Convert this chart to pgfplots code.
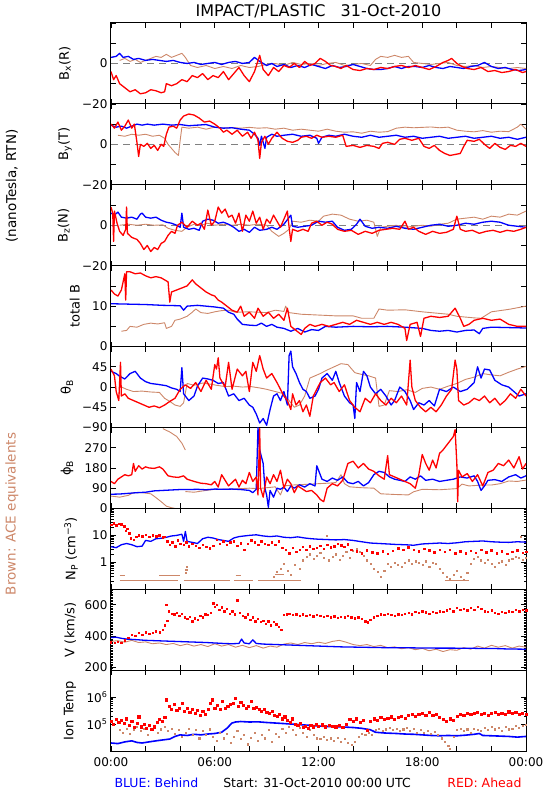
\documentclass[border=0pt]{standalone}
\usepackage{fontspec}
\setmainfont{DejaVu Sans}
\usepackage{pgfplots}
\pgfplotsset{compat=1.18}
\definecolor{ibrown}{RGB}{205,135,105}
\definecolor{iblue}{RGB}{0,0,255}
\definecolor{ired}{RGB}{255,0,0}
\newcommand\tk{\fontsize{12}{14}\selectfont}
\newcommand\lb{\fontsize{13}{15}\selectfont}
\pgfplotsset{
  panel/.style={
    scale only axis, width=415pt, height=80.9pt, anchor=north west,
    xmin=0, xmax=24, xtick={0,2,...,24}, xticklabels={},
    tick align=inside, xtick pos=both, ytick pos=both,
    major tick length=5pt, minor tick length=2.5pt,
    axis line style={line width=1pt},
    every tick/.style={black, line width=0.8pt},
    yticklabel style={font=\tk},
    ylabel style={font=\lb, anchor=center},
    unbounded coords=jump,
  },
  lblue/.style={iblue, line width=1.3pt, line join=round, mark=none},
  lred/.style={ired, line width=1.3pt, line join=round, mark=none},
  lbrown/.style={ibrown, line width=0.9pt, line join=round, mark=none},
  zline/.style={gray, line width=0.8pt, dash pattern=on 7pt off 5pt, mark=none},
}
\begin{document}
\begin{tikzpicture}
\useasboundingbox (-111pt,23pt) rectangle (439pt,-777pt);
\node[font=\fontsize{16}{18}\selectfont] at (207.5pt,11.5pt) {IMPACT/PLASTIC~~~31-Oct-2010};
\node[font=\fontsize{13.5}{15}\selectfont, rotate=90] at (-99pt,-163pt) {(nanoTesla, RTN)};
\node[font=\fontsize{13.5}{15}\selectfont, rotate=90, text=ibrown] at (-99pt,-491pt) {Brown: ACE equivalents};
\node[font=\fontsize{12.5}{14}\selectfont, text=iblue, anchor=west] at (0pt,-760pt) {BLUE: Behind};
\node[font=\fontsize{12.5}{14}\selectfont, anchor=center] at (206pt,-760pt) {Start: 31-Oct-2010 00:00 UTC};
\node[font=\fontsize{12.5}{14}\selectfont, text=ired, anchor=east] at (414pt,-760pt) {RED: Ahead};

% ---------- Panel 1: Bx
\begin{axis}[panel, at={(0pt,0pt)}, ymin=-20, ymax=20, ytick={-20,-10,0,10,20},
  yticklabels={−20,,0,,}, ylabel={B\textsubscript{x}(R)},
  ylabel style={at={(axis description cs:-0.111,0.5)}}]
\addplot[zline] coordinates {(0,0) (24,0)};
\addplot[lbrown] coordinates {(0.5,1.5) (0.8,2.5) (1.1,1) (1.4,2) (1.7,0.5) (2,1.5) (2.3,2.5) (2.6,3.5) (2.9,3) (3.2,4.5) (3.5,3) (3.8,4) (4.1,5) (4.3,3) (4.6,-1) (5,-2) (5.5,-1) (6,-2.5) (6.5,-1.5) (7,-2.5) (7.5,-1) (8,-2) (8.5,-1.5) (9,-0.5) (9.5,0) (10,-1) (10.5,0.5) (11,-0.5) (11.5,0) (12,-1) (12.5,0) (13,0.5) (13.5,-1) (14,-0.5) (14.5,0) (15,-1) (15.3,2) (15.6,3.5) (16,3) (16.4,4) (16.8,3) (17.2,3.5) (17.5,0.5) (18,0) (18.5,-0.5) (19,0) (19.5,0.5) (20,-1) (20.5,-1.5) (21,-1) (21.5,-2) (22,-1.5) (22.5,-2) (23,-2.5) (23.5,-2) (24,-2.5)};
\addplot[lblue] coordinates {(0,3) (0.3,3.5) (0.5,5) (0.7,3) (1,3.5) (1.3,2) (1.6,2.5) (2,1.5) (2.4,2) (2.8,1.5) (3.2,1) (3.6,1.5) (4,0.5) (4.4,0) (4.8,0.5) (5.2,-0.5) (5.6,0) (6,0.5) (6.4,-0.5) (6.8,0.5) (7.2,1) (7.6,0) (8,0.5) (8.3,3) (8.6,1) (9,-1) (9.3,0) (9.6,-1.5) (10,-0.5) (10.4,-2) (10.8,-1) (11.2,-2) (11.6,-0.5) (12,-1.5) (12.4,-2.5) (12.8,-1) (13.2,-2) (13.6,-1.5) (14,-0.5) (14.4,-1.5) (14.8,-2.5) (15.2,-3) (15.6,-3) (16,-2.5) (16.4,-1.5) (16.8,-2.5) (17.2,-1.5) (17.6,-1.5) (18,-2) (18.4,-1) (18.8,-2) (19.2,-2.5) (19.6,-1.5) (20,-2) (20.4,-2.5) (20.8,-1.5) (21.2,-1) (21.6,0.5) (22,-1.5) (22.4,-2.5) (22.8,-2) (23.2,-3) (23.6,-3.5) (24,-3)};
\addplot[lred] coordinates {(0,-4) (0.15,-8) (0.3,-6) (0.5,-10) (0.8,-12) (1.1,-14) (1.4,-13) (1.7,-15) (2,-14.5) (2.3,-13) (2.6,-13.5) (2.9,-14.5) (3.1,-14) (3.2,-10) (3.5,-11) (3.8,-10) (4.1,-8) (4.4,-9) (4.7,-6) (5,-7) (5.3,-5) (5.6,-8) (5.9,-6) (6.2,-7) (6.5,-4) (6.8,-8) (7.1,-5) (7.4,-2) (7.7,-6) (8,-9) (8.3,-4) (8.6,4) (8.8,-3) (9.1,-6) (9.4,-2) (9.7,-4) (10,-1) (10.3,-2) (10.6,0) (10.9,-2) (11.2,1) (11.5,-1) (11.8,0) (12.1,2.5) (12.4,1) (12.7,-1) (13,-1.5) (13.3,-2.5) (13.6,-1) (14,-3) (14.4,-3.5) (14.8,-2.5) (15.2,-3) (15.6,-2) (16,-2.5) (16.4,-1.5) (16.8,-1) (17.2,-2) (17.6,-1) (18,-2) (18.4,-3) (18.8,-1.5) (19.2,0.5) (19.5,1.5) (19.7,2.5) (20,0) (20.3,-1.5) (20.6,-2.5) (21,-3) (21.4,-2) (21.8,-4) (22.2,-3.5) (22.6,-4.5) (23,-4) (23.4,-3) (23.8,-4.5) (24,-4)};
\end{axis}

% ---------- Panel 2: By
\begin{axis}[panel, at={(0pt,-80.9pt)}, ymin=-20, ymax=20, ytick={-20,-10,0,10,20},
  yticklabels={−20,,0,,}, ylabel={B\textsubscript{y}(T)},
  ylabel style={at={(axis description cs:-0.111,0.5)}}]
\addplot[zline] coordinates {(0,0) (24,0)};
\addplot[lbrown] coordinates {(0.4,4.5) (0.8,4) (1.2,5) (1.6,4.5) (2,5) (2.4,4) (2.8,4.5) (3.1,3) (3.3,0) (3.5,-2) (3.7,-4) (3.9,-5.5) (4.0,2) (4.1,8.5) (4.5,8) (5,8.5) (5.5,7.5) (6,8.5) (6.5,8) (7,8.3) (7.5,8) (8,8.4) (8.5,8) (9,8.2) (9.5,7.5) (10,8) (10.5,7) (11,7.5) (11.5,7) (12,6.5) (12.5,7.5) (13,6.5) (13.5,6) (14,6.2) (14.5,5.5) (15,6.5) (15.5,6) (16,6.3) (16.5,8) (17,8.5) (17.5,8.2) (18,8.4) (18.5,8.6) (19,8.2) (19.5,8.5) (20,7) (20.5,6.5) (21,6.2) (21.5,6.8) (22,6) (22.5,6.5) (23,6.3) (23.5,8.5) (23.7,10) (24,7.5)};
\addplot[lblue] coordinates {(0,9.5) (0.3,8.5) (0.6,9) (0.9,8) (1.2,9) (1.5,10) (1.8,9.5) (2.1,10) (2.5,9.5) (3,10) (3.5,9.5) (4,9.8) (4.5,9.2) (5,9.5) (5.5,9.8) (6,8.5) (6.5,8) (7,8.2) (7.5,7.5) (8,7) (8.3,5) (8.5,3) (8.6,-0.5) (8.7,4) (8.9,-2) (9,3.5) (9.3,5) (9.6,4) (10,4.5) (10.5,5) (11,4) (11.5,4.5) (11.9,3) (12,0.5) (12.2,3.5) (12.6,4.5) (13,4) (13.5,5) (14,4) (14.5,3.5) (15,4.5) (15.5,3.5) (16,4) (16.5,4.5) (17,3.5) (17.5,4) (18,3) (18.5,3.5) (19,4) (19.5,3) (20,3.5) (20.5,4) (21,3) (21.5,3.5) (22,4) (22.5,3) (23,3.5) (23.5,2.5) (24,3.5)};
\addplot[lred] coordinates {(0,10) (0.2,8) (0.4,11) (0.6,7) (0.8,9) (1,12) (1.2,8) (1.35,10) (1.5,1) (1.6,-6) (1.7,0) (1.9,-1) (2.1,0.5) (2.3,-2) (2.5,-0.5) (2.7,-3) (2.9,0) (3.05,-1) (3.2,5) (3.35,8.5) (3.6,9) (3.8,8) (4,12) (4.2,14) (4.5,15) (4.8,14.5) (5.1,13) (5.4,11) (5.7,11.5) (6,10) (6.3,8) (6.5,6) (6.7,7) (7,5) (7.3,7) (7.6,4) (7.9,6) (8.1,3) (8.3,6) (8.5,2) (8.6,-7) (8.7,1) (8.9,4) (9.1,0) (9.3,3) (9.6,6) (9.9,3) (10.2,1.5) (10.5,1) (10.8,2) (11,3.5) (11.3,4) (11.6,3) (11.9,4.5) (12.2,3.5) (12.6,4) (13,3.5) (13.4,4.5) (13.6,-1) (14,-0.5) (14.4,-1.5) (14.8,-0.5) (15.2,-1) (15.5,-2) (15.7,0.5) (16,1) (16.4,0) (16.7,2.5) (17,3) (17.4,2) (17.8,3) (18.1,-1) (18.4,-2) (18.7,-0.5) (19,-3) (19.3,-4.5) (19.6,-5.5) (19.9,-5) (20.2,-4.5) (20.4,-1) (20.6,2) (21,1.5) (21.3,2.5) (21.6,0) (21.9,-2) (22.2,0.5) (22.5,-1.5) (22.8,-2.5) (23.1,-0.5) (23.4,-1) (23.7,0.5) (24,-1)};
\end{axis}

% ---------- Panel 3: Bz
\begin{axis}[panel, at={(0pt,-161.8pt)}, ymin=-20, ymax=20, ytick={-20,-10,0,10,20},
  yticklabels={−20,,0,,}, ylabel={B\textsubscript{z}(N)},
  ylabel style={at={(axis description cs:-0.114,0.5)}}]
\addplot[zline] coordinates {(0,0) (24,0)};
\addplot[lbrown] coordinates {(0.5,0) (1,0.5) (1.5,0) (2,0.5) (2.5,0) (3,0.2) (3.3,-1.5) (3.7,-2.5) (4.1,-3) (4.4,-1) (4.8,0.5) (5.2,0) (5.6,1) (6,0) (6.5,0.5) (7,0) (7.5,0.5) (8,0) (8.5,0.5) (9,0) (9.3,-3) (9.7,-5.5) (10,-4) (10.3,-2) (10.5,2) (11,1.5) (11.5,2.5) (12,2) (12.3,4.5) (12.8,5.5) (13.3,5) (13.8,3) (14.3,2) (14.8,2.5) (15.2,1.5) (15.4,-5.5) (15.6,-1) (16,-0.5) (16.5,0) (17,-1) (17.5,-0.5) (18,0) (18.5,-0.5) (19,0.5) (19.5,1) (20,3) (20.5,3.5) (21,4) (21.5,3) (22,4.5) (22.5,4) (23,5.5) (23.5,5) (24,7)};
\addplot[lblue] coordinates {(0,6) (0.2,5) (0.4,6.5) (0.6,4) (0.9,3.5) (1.2,4) (1.5,3) (1.7,5.5) (1.8,6) (2,4) (2.3,3.5) (2.6,4) (2.9,2.5) (3.2,1.5) (3.5,1) (3.8,0) (4,-1) (4.1,6) (4.2,-1) (4.5,-2) (4.8,-1.5) (5.1,-2.5) (5.3,2) (5.6,3) (5.9,2.5) (6.2,1) (6.5,1.5) (6.8,0.5) (7.1,-1) (7.4,-3) (7.7,-2) (8,-3.5) (8.3,-1) (8.6,-2.5) (9,-2) (9.3,-1) (9.6,-2) (10,0.5) (10.4,5) (10.5,-0.5) (10.8,-1) (11.2,-0.5) (11.6,0) (12,2) (12.4,1.5) (12.8,2) (13.1,-1) (13.5,-2.5) (13.9,-2) (14.2,0.5) (14.4,3) (14.7,-0.5) (15.1,-1.5) (15.5,-1) (16,-1.5) (16.5,-0.5) (17,-1.5) (17.5,-2) (18,-1) (18.5,0) (19,0.5) (19.5,-0.5) (20,0) (20.5,1) (21,0.5) (21.5,1.5) (22,2) (22.5,1.5) (23,0) (23.5,-0.5) (24,-1)};
\addplot[lred] coordinates {(0,9) (0.1,6) (0.15,-8) (0.2,7) (0.35,1) (0.5,-3) (0.7,-5) (0.85,-2) (0.9,9) (0.95,-4) (1.2,-6) (1.5,-7) (1.7,-9) (1.9,-12) (2.1,-10) (2.3,-13) (2.5,-11) (2.7,-12) (2.9,-9) (3.1,-8) (3.3,-5) (3.5,-3) (3.7,-4) (3.85,0) (4.1,1.5) (4.4,-1) (4.7,2) (5,0) (5.2,1) (5.4,-2) (5.6,7.5) (5.8,0) (6,2) (6.2,9) (6.4,6) (6.6,8) (6.8,4) (7,5) (7.2,1) (7.4,6) (7.6,-3) (7.8,5) (8,2) (8.2,7) (8.4,1) (8.6,4) (8.8,-2) (9,3) (9.2,1) (9.4,5) (9.6,2) (9.8,-1) (10,3) (10.2,7) (10.3,-1) (10.4,-8) (10.5,-2) (10.8,-3) (11.1,-2) (11.4,-3) (11.6,1) (11.9,2) (12.2,0) (12.5,1.5) (12.8,0.5) (13.1,-2) (13.5,-3) (13.9,-2.5) (14.3,-4.5) (14.7,-3) (15.1,-4) (15.5,-2.5) (15.9,-2) (16.3,-1.5) (16.7,-2) (17,2) (17.2,-2) (17.5,-1) (17.8,-3) (18.2,-4.5) (18.6,-3) (19,-4) (19.4,-3.5) (19.8,-2) (20,4.5) (20.2,-2) (20.5,-3) (20.9,-2.5) (21.3,-4) (21.7,-3) (22.1,-2.5) (22.5,-3.5) (22.9,-2.5) (23.3,-3) (23.7,-2) (24,-1)};
\end{axis}

% ---------- Panel 4: total B
\begin{axis}[panel, at={(0pt,-242.7pt)}, ymin=0, ymax=20, ytick={0,5,10,15,20},
  yticklabels={0,,10,,}, ylabel={total B},
  ylabel style={at={(axis description cs:-0.087,0.5)}}]
\addplot[lbrown] coordinates {(0.6,3.8) (0.9,4) (1.1,5) (1.5,4.8) (1.9,5.5) (2.3,5.8) (2.7,5.6) (3.1,5.9) (3.2,4.5) (3.5,5) (3.7,6.5) (4,6.8) (4.4,7.5) (4.7,8.5) (4.9,9.3) (5.2,8.4) (5.6,8.2) (6,8.6) (6.4,8.9) (6.8,9) (7.2,8.5) (8,8.6) (9,8.4) (9.5,9) (10,8.7) (10.1,10) (10.3,8.4) (11,8) (12,7.8) (13,7.6) (14,7.6) (14.5,7) (15.2,7) (15.5,9.3) (16,9) (17,9.1) (18,8.6) (18.5,8.4) (19.5,8) (20,7.5) (20.5,7.3) (21,7.1) (21.4,7) (22,8.6) (23,9.2) (24,10)};
\addplot[lblue] coordinates {(0,10.6) (1,10.5) (2,10.4) (3,10.2) (4,10.1) (4.2,9) (4.4,10) (5,10.2) (5.5,10) (6,9.8) (6.5,9.5) (6.8,8.5) (7.1,8) (7.3,6.8) (7.6,5.5) (8,5.3) (8.4,5.2) (8.7,5.8) (9,5) (9.3,5.5) (9.6,4.8) (10,4.5) (10.4,3.8) (10.8,4.5) (11.2,3.6) (11.6,4.2) (12,4) (12.4,5) (13,4.8) (14,5) (15,4.9) (16,5) (17,4.8) (18,4.5) (18.5,4) (19,3.8) (19.5,4) (20,3.6) (20.5,4) (21,4.1) (21.3,3.2) (21.5,4.5) (22,4.8) (23,4.7) (24,4.6)};
\addplot[lred] coordinates {(0,14) (0.2,13) (0.4,12.5) (0.6,14) (0.7,16) (0.8,18) (0.85,11.5) (0.9,18.5) (1.1,18.5) (1.4,18) (1.7,18.2) (2,17.5) (2.3,17) (2.6,17.3) (2.9,17) (3.1,16.5) (3.3,16) (3.4,11) (3.5,13.5) (3.8,14) (4.1,14.5) (4.4,15) (4.7,16.5) (4.9,15.5) (5.2,14.5) (5.5,13.5) (5.8,12.8) (6,12.5) (6.2,11.5) (6.4,11) (6.7,10) (7,9) (7.3,8.5) (7.5,10) (7.7,7.5) (8,8.5) (8.3,7) (8.5,9.5) (8.8,7.5) (9.1,8.5) (9.4,7) (9.7,8) (10,6.5) (10.2,9.5) (10.4,5) (10.7,4) (11,3) (11.2,4.5) (11.5,5.5) (11.8,5) (12.2,5.5) (12.6,5) (13,5.5) (13.4,6) (13.8,5.5) (14.2,6.5) (14.6,6) (15,5.5) (15.4,6) (15.8,5.5) (16.2,6) (16.6,5.5) (17,4.5) (17.1,1.5) (17.3,5.5) (17.7,6) (17.9,2.5) (18.1,7) (18.5,7.5) (19,7.2) (19.5,7.5) (19.9,9.5) (20.2,7) (20.4,5) (20.7,5.5) (21,6.5) (21.5,7) (22,6.5) (22.5,6.8) (23,5.5) (23.5,5) (24,5)};
\end{axis}

% ---------- Panel 5: theta
\begin{axis}[panel, at={(0pt,-323.6pt)}, ymin=-90, ymax=90, ytick={-90,-45,0,45,90},
  yticklabels={−90,−45,0,45,}, ylabel={θ\textsubscript{B}},
  ylabel style={at={(axis description cs:-0.106,0.5)}}]
\addplot[lbrown] coordinates {(0.5,2) (0.9,-5) (1.3,-10) (1.8,-9) (2.3,-11) (2.8,-12) (3.1,-25) (3.4,-32) (3.7,-40) (4,-43) (4.2,-35) (4.4,8) (4.8,4) (5.3,9) (5.8,6) (6.1,4) (6.6,1) (7.1,2) (7.6,0) (8.1,1) (8.6,-2) (9,-5) (9.5,-10) (10,-15) (10.3,-30) (10.6,-45) (10.9,-40) (11.2,-20) (11.5,20) (11.8,25) (12.1,30) (12.5,38) (12.9,45) (13.3,52) (13.7,50) (14.1,32) (14.5,28) (14.9,25) (15.3,20) (15.5,-43) (15.8,-40) (16.1,-8) (16.6,-10) (17.1,-6) (17.6,-12) (18,-3) (18.5,0) (19,-5) (19.5,2) (20,8) (20.5,17) (21,22) (21.5,30) (22,27) (22.5,25) (23,33) (23.5,40) (24,46)};
\addplot[lblue] coordinates {(0,35) (0.3,30) (0.5,24) (0.8,18) (1.1,30) (1.4,35) (1.7,20) (2,12) (2.3,8) (2.7,6) (3.2,3) (3.5,-2) (3.8,-5) (4,-10) (4.1,43) (4.2,-15) (4.5,-30) (4.8,-20) (5,2) (5.3,20) (5.6,18) (5.9,15) (6.2,8) (6.5,10) (6.8,-20) (7.1,-15) (7.4,-30) (7.7,-25) (8,-40) (8.2,-45) (8.4,-60) (8.6,-80) (8.8,-70) (9,-85) (9.2,-50) (9.4,-20) (9.6,-15) (9.8,-30) (10,-10) (10.2,-40) (10.3,70) (10.4,80) (10.5,45) (10.7,30) (10.9,10) (11.1,-5) (11.3,-10) (11.5,-25) (11.8,-20) (12,-5) (12.2,20) (12.5,30) (12.8,15) (13,35) (13.2,10) (13.5,-20) (13.8,-35) (14,-40) (14.1,-70) (14.2,10) (14.4,-10) (14.6,35) (14.8,25) (15,0) (15.3,-15) (15.6,-5) (15.9,-20) (16.2,-40) (16.4,-30) (16.7,0) (17,-10) (17.3,-30) (17.5,-50) (17.8,-35) (18.1,-40) (18.4,-30) (18.7,-42) (19,-5) (19.4,-10) (19.8,0) (20.2,-10) (20.6,-5) (21,10) (21.2,45) (21.4,20) (21.6,40) (21.9,38) (22.2,15) (22.6,5) (23,0) (23.3,-10) (23.6,-20) (24,-15)};
\addplot[lred] coordinates {(0,40) (0.2,25) (0.3,-10) (0.45,-30) (0.55,55) (0.6,-20) (0.8,-15) (1,-25) (1.3,-30) (1.6,-35) (1.9,-40) (2.2,-45) (2.5,-42) (2.8,-46) (3.1,-40) (3.4,-32) (3.7,-25) (4,-5) (4.3,5) (4.6,-3) (4.9,10) (5.2,-10) (5.5,15) (5.8,-5) (6,50) (6.1,40) (6.2,65) (6.3,20) (6.6,0) (6.8,55) (7,-5) (7.3,40) (7.6,25) (7.8,35) (8,-10) (8.2,55) (8.4,35) (8.6,70) (8.8,40) (9,20) (9.3,30) (9.6,10) (9.8,-5) (10,-20) (10.2,-30) (10.4,-50) (10.5,-15) (10.7,-40) (10.9,-30) (11.1,-55) (11.3,-40) (11.5,-65) (11.7,-20) (11.9,-5) (12.1,10) (12.4,20) (12.7,5) (12.9,10) (13.2,-10) (13.5,5) (13.8,-30) (14.1,-45) (14.4,-55) (14.7,-25) (15,-35) (15.3,-15) (15.6,-30) (15.9,-40) (16.2,-25) (16.5,-35) (16.8,-20) (17.1,-40) (17.3,60) (17.4,0) (17.6,-30) (17.9,-45) (18.2,-55) (18.5,-45) (18.8,-55) (19.1,-40) (19.4,-20) (19.7,-5) (19.9,60) (20,40) (20.1,-30) (20.4,-40) (20.7,-35) (21,-25) (21.3,-30) (21.6,-20) (21.9,-35) (22.2,-25) (22.5,-40) (22.8,-30) (23.1,-15) (23.4,-25) (23.7,-5) (24,-20)};
\end{axis}

% ---------- Panel 6: phi
\begin{axis}[panel, at={(0pt,-404.5pt)}, ymin=0, ymax=360, ytick={0,90,180,270,360},
  yticklabels={0,90,180,270,}, ylabel={ϕ\textsubscript{B}},
  ylabel style={at={(axis description cs:-0.106,0.5)}}]
\addplot[lbrown] coordinates {(0,55) (0.5,50) (1,58) (1.3,70) (1.8,70) (2.3,65) (2.6,48) (2.9,30) (3.2,10) (3.5,3) (3.7,0) (3.7,nan) (3.0,355) (3.4,340) (3.8,320) (4.1,290) (4.3,260) (4.3,nan) (4.3,75) (4.8,72) (5.5,80) (6,85) (7,86) (8,90) (8.5,88) (9,92) (9.5,96) (9.8,60) (10,100) (10.5,104) (11,106) (11.5,108) (12,110) (12.5,112) (13,115) (13.3,150) (13.5,110) (13.8,96) (14.5,92) (15.2,90) (15.6,65) (16.4,62) (17.2,60) (17.5,74) (18,85) (19,83) (20,88) (20.3,108) (20.7,100) (21.5,104) (22,104) (22.5,110) (23,122) (23.5,120) (24,126)};
\addplot[lblue] coordinates {(0,63) (0.5,64) (1,67) (1.5,70) (2,72) (2.5,78) (3,80) (3.5,82) (4,84) (4.5,84) (5,85) (5.5,83) (6,86) (6.5,85) (7,86) (7.5,84) (8,80) (8.2,70) (8.4,85) (8.5,360) (8.55,300) (8.6,260) (8.7,230) (8.8,200) (8.9,90) (9,60) (9.1,5) (9.2,80) (9.4,50) (9.6,90) (9.8,85) (10,95) (10.2,75) (10.4,100) (10.6,90) (10.9,105) (11.2,95) (11.5,110) (11.8,100) (11.9,190) (12,170) (12.2,130) (12.5,120) (12.8,135) (13.1,125) (13.4,140) (13.7,115) (14,110) (14.3,120) (14.6,100) (14.9,115) (15.2,150) (15.5,165) (15.8,160) (16.1,140) (16.4,130) (16.7,125) (17,120) (17.3,140) (17.6,130) (17.9,145) (18.2,125) (18.6,130) (19,120) (19.4,125) (19.8,130) (20.2,140) (20.6,135) (21,145) (21.2,120) (21.4,80) (21.6,100) (21.8,125) (22.2,128) (22.6,120) (23,140) (23.4,150) (23.7,135) (24,145)};
\addplot[lred] coordinates {(0,120) (0.2,110) (0.4,130) (0.6,140) (0.8,150) (1,145) (1.2,150) (1.3,200) (1.4,165) (1.6,190) (1.8,175) (2,185) (2.2,180) (2.5,178) (2.8,185) (3,175) (3.1,165) (3.3,145) (3.6,140) (3.9,138) (4.2,145) (4.4,130) (4.6,125) (4.9,118) (5.2,112) (5.5,110) (5.8,105) (6,120) (6.2,95) (6.4,150) (6.6,125) (6.8,100) (7,115) (7.2,130) (7.4,95) (7.6,125) (7.8,110) (8,160) (8.2,120) (8.4,140) (8.5,60) (8.6,355) (8.65,90) (8.8,50) (9,140) (9.2,110) (9.4,150) (9.6,120) (9.8,170) (10,90) (10.2,130) (10.4,110) (10.6,70) (10.8,100) (11,90) (11.3,75) (11.6,80) (11.9,60) (12.1,40) (12.3,30) (12.5,90) (12.8,110) (13.1,100) (13.4,125) (13.7,200) (14,210) (14.3,180) (14.6,200) (14.9,175) (15.2,165) (15.5,145) (15.8,130) (16,235) (16.1,150) (16.4,140) (16.7,130) (17,120) (17.3,110) (17.6,90) (17.8,150) (18,240) (18.2,200) (18.4,170) (18.6,215) (18.8,180) (19,245) (19.2,260) (19.4,280) (19.6,300) (19.8,320) (19.9,350) (20,200) (20.05,30) (20.1,170) (20.3,140) (20.6,155) (20.9,120) (21.2,150) (21.5,100) (21.8,160) (22.1,170) (22.4,200) (22.7,190) (23,215) (23.3,180) (23.6,230) (23.8,175) (24,200)};
\end{axis}

% ---------- Panel 7: Np
\begin{axis}[panel, at={(0pt,-485.4pt)}, ymode=log, ymin=0.1, ymax=100,
  ytick={0.1,1,10,100}, yticklabels={,1,10,},
  minor ytick={0.2,0.3,0.4,0.5,0.6,0.7,0.8,0.9,2,3,4,5,6,7,8,9,20,30,40,50,60,70,80,90},
  ylabel={N\textsubscript{P} (cm\textsuperscript{−3})},
  ylabel style={at={(axis description cs:-0.096,0.5)}}]
\addplot[ibrown, line width=1pt] coordinates {(0.5,0.21) (3.9,0.21) (3.9,nan) (4.2,0.21) (6.9,0.21) (6.9,nan) (7.1,0.21) (8.2,0.21) (8.2,nan) (8.5,0.21) (11,0.21) (11,nan) (19.3,0.21) (20.7,0.21) (20.7,nan) (0.5,0.32) (0.8,0.32) (0.8,nan) (2.8,0.32) (4.0,0.32) (4.0,nan) (7.2,0.32) (7.5,0.32) (7.5,nan) (9.5,0.36) (10.0,0.36)};
\addplot[ibrown, only marks, mark=square*, mark size=0.55pt] coordinates {(4.3,0.4) (4.35,0.55) (4.4,0.7) (9.4,0.3) (9.6,0.45) (9.8,0.6) (10.0,0.9) (10.2,0.5) (10.4,0.35) (10.6,0.8) (10.9,0.6) (11.1,1.2) (11.3,1.6) (11.5,2.0) (11.7,1.4) (11.9,1.8) (12.1,2.2) (12.3,1.5) (12.5,10) (12.6,1.2) (12.8,1.6) (13.0,2.0) (13.2,1.3) (13.4,1.8) (13.6,2.4) (13.8,1.5) (14.0,2.8) (14.2,3.2) (14.4,2.5) (14.6,1.8) (14.8,1.2) (15.0,0.9) (15.2,0.6) (15.4,0.45) (15.6,0.3) (15.8,0.5) (16.0,0.9) (16.2,0.7) (16.4,0.95) (16.6,0.8) (16.8,0.7) (17.0,1.0) (17.2,1.2) (17.4,0.9) (17.6,1.1) (17.8,1.0) (18.0,0.8) (18.2,1.1) (18.4,0.7) (18.6,1.0) (18.8,0.9) (19.0,0.6) (19.2,0.4) (19.4,0.3) (19.6,0.25) (19.8,0.35) (20.0,0.5) (20.2,0.3) (20.4,0.22) (20.6,0.4) (20.8,0.9) (21.0,1.4) (21.2,1.6) (21.4,1.2) (21.6,1.0) (21.8,1.3) (22.0,0.9) (22.2,0.7) (22.4,0.95) (22.6,1.1) (22.8,0.8) (23.0,1.2) (23.2,1.4) (23.4,1.6) (23.6,1.5) (23.7,8.6) (23.8,1.3) (24.0,1.5)};
\addplot[lblue] coordinates {(0,3.8) (0.3,3.5) (0.6,4.5) (0.9,5) (1.2,4.5) (1.5,3.8) (1.8,4) (2,6.5) (2.3,6) (2.6,7.5) (2.9,7.8) (3.2,8.5) (3.5,9.5) (3.8,10) (4.1,11) (4.2,6) (4.3,14) (4.4,6) (4.7,5.5) (5,5) (5.3,7.5) (5.6,8.5) (5.9,8) (6.2,7) (6.5,6.5) (6.8,6) (7.1,8) (7.4,9) (7.7,9.5) (8,10) (8.4,10.5) (8.8,9.5) (9.2,9) (9.6,9.5) (10,8.5) (10.4,8.2) (10.8,8.8) (11.2,8) (11.6,7.5) (12,7.2) (12.5,7) (13,6.8) (13.5,7) (14,6.5) (14.5,5.8) (15,5.2) (15.5,5) (16,4.8) (16.5,4.6) (17,4.5) (17.5,4.3) (18,4.8) (18.5,5) (19,5.2) (19.5,5) (20,5.3) (20.5,5.8) (21,6) (21.5,6.2) (22,5.8) (22.5,5.6) (23,5.5) (23.5,5.8) (24,5.6)};
\addplot[ired, only marks, mark=square*, mark size=0.75pt] coordinates {(0,25) (0.15,28) (0.3,24) (0.45,27) (0.6,26) (0.75,22) (0.85,15) (0.95,18) (1.05,12) (1.15,8) (1.3,7) (1.45,9) (1.6,10) (1.8,9.5) (2,10.5) (2.2,9) (2.4,10) (2.6,9.5) (2.8,10) (3,8.5) (3.1,9) (3.25,6) (3.4,4.5) (3.55,5.5) (3.7,4) (3.85,6.5) (4,5) (4.2,4.5) (4.35,5.5) (4.5,4) (4.7,5) (4.9,4.2) (5.1,3.5) (5.3,4.5) (5.5,3.8) (5.7,3.3) (5.9,4.2) (6.1,7) (6.3,5) (6.5,6) (6.7,4.5) (6.9,5.5) (7.1,6) (7.3,4.2) (7.5,5.2) (7.7,3) (7.9,5) (8.1,6.5) (8.3,5.5) (8.5,4.5) (8.7,6) (8.9,5) (9.1,4.5) (9.3,5.5) (9.5,4.5) (9.7,6) (9.9,3.5) (10.1,3) (10.3,2.2) (10.5,3.5) (10.7,2.5) (10.9,3) (11.1,3.8) (11.3,3) (11.5,4) (11.7,3.2) (11.9,3.5) (12.1,4.2) (12.3,3.2) (12.5,4.5) (12.7,3.6) (12.9,4) (13.1,5) (13.3,4.3) (13.5,3.8) (13.7,4.8) (13.9,3) (14.2,2.6) (14.5,2.2) (14.8,2.8) (15.1,2.4) (15.4,2.2) (15.7,2.6) (16,2.1) (16.3,2.7) (16.6,3.4) (16.9,2.9) (17.2,3.6) (17.5,3) (17.8,2.6) (18.1,3.2) (18.4,2.8) (18.7,2.4) (19,3) (19.3,2.5) (19.6,2.9) (19.9,2.2) (20.2,2.6) (20.5,2.2) (20.8,2.7) (21.1,2.3) (21.4,2.9) (21.7,2.4) (22,2.8) (22.3,2.2) (22.6,2.6) (22.9,2.1) (23.2,2.5) (23.5,2.8) (23.8,2.3) (24,2.5)};
\end{axis}

% ---------- Panel 8: V
\begin{axis}[panel, at={(0pt,-566.3pt)}, ymin=180, ymax=700, ytick={200,400,600},
  yticklabels={200,400,600}, minor ytick={180,190,...,700},
  ylabel={V (km/s)},
  ylabel style={at={(axis description cs:-0.098,0.5)}}]
\addplot[lbrown] coordinates {(0,365) (0.4,370) (0.8,360) (1.2,372) (1.6,358) (2,362) (2.4,350) (2.8,355) (3.2,345) (3.6,352) (4,338) (4.4,348) (4.8,335) (5.2,345) (5.6,332) (6,350) (6.4,335) (6.8,345) (7.2,328) (7.6,340) (8,325) (8.4,338) (8.8,322) (9.2,335) (9.6,328) (10,348) (10.4,355) (10.8,345) (11.2,358) (11.6,350) (12,360) (12.4,352) (12.8,365) (13.2,372) (13.6,360) (14,345) (14.4,338) (14.8,345) (15.2,332) (15.6,340) (16,325) (16.4,330) (16.8,318) (17.2,325) (17.6,312) (18,320) (18.4,305) (18.8,315) (19.2,300) (19.6,312) (20,308) (20.4,325) (20.8,315) (21.2,335) (21.6,322) (22,340) (22.4,328) (22.8,338) (23.2,322) (23.6,335) (24,328)};
\addplot[lblue] coordinates {(0,390) (0.3,392) (0.6,385) (0.9,380) (1.2,378) (1.5,376) (2,372) (2.5,370) (3,368) (3.5,366) (4,364) (4.5,362) (5,360) (5.5,358) (6,355) (6.5,352) (7,350) (7.4,352) (7.55,380) (7.7,355) (8,350) (8.2,375) (8.4,352) (8.8,348) (9.3,346) (9.8,344) (10.3,342) (10.8,340) (11.3,338) (11.8,336) (12.3,334) (12.8,332) (13.3,330) (13.8,329) (14.3,328) (14.8,327) (15.3,326) (15.8,325) (16.3,325) (16.8,324) (17.3,324) (17.8,323) (18.3,323) (18.8,322) (19.3,322) (19.8,322) (20.3,321) (20.8,321) (21.3,320) (21.8,320) (22.3,319) (22.8,317) (23.3,316) (24,315)};
\addplot[ired, only marks, mark=square*, mark size=0.7pt] coordinates {(0,360) (0.2,355) (0.4,365) (0.6,358) (0.8,372) (1,390) (1.2,410) (1.4,400) (1.6,420) (1.8,410) (2,425) (2.2,415) (2.4,420) (2.6,430) (2.8,425) (3,440) (3.1,470) (3.2,600) (3.25,500) (3.35,560) (3.5,545) (3.65,540) (3.8,550) (3.95,530) (4.1,545) (4.25,520) (4.4,510) (4.55,525) (4.7,495) (4.85,515) (5,505) (5.15,530) (5.3,520) (5.45,540) (5.6,535) (5.75,550) (5.9,610) (6,590) (6.1,600) (6.25,570) (6.4,585) (6.55,560) (6.7,575) (6.85,545) (7,560) (7.15,540) (7.3,630) (7.45,550) (7.6,530) (7.75,520) (7.9,540) (8.05,505) (8.2,520) (8.35,495) (8.5,510) (8.65,490) (8.8,500) (8.95,480) (9.1,495) (9.25,470) (9.4,490) (9.55,475) (9.7,460) (9.85,440) (10,535) (10.15,540) (10.3,545) (10.5,535) (10.7,540) (10.9,532) (11.1,540) (11.3,530) (11.5,538) (11.7,528) (11.9,535) (12.1,530) (12.3,525) (12.5,530) (12.7,520) (12.9,528) (13.1,518) (13.3,525) (13.5,520) (13.7,530) (13.9,522) (14.1,515) (14.3,520) (14.5,510) (14.7,495) (14.85,488) (15,505) (15.2,520) (15.4,530) (15.6,540) (15.8,535) (16,545) (16.2,538) (16.4,530) (16.6,540) (16.8,535) (17,545) (17.2,550) (17.4,540) (17.6,555) (17.8,548) (18,560) (18.2,552) (18.4,545) (18.6,555) (18.8,550) (19,560) (19.2,555) (19.4,565) (19.6,575) (19.8,560) (20,580) (20.2,570) (20.4,575) (20.6,565) (20.8,580) (21,570) (21.2,590) (21.4,575) (21.6,560) (21.8,555) (22,565) (22.2,550) (22.4,545) (22.6,555) (22.8,548) (23,560) (23.2,555) (23.4,568) (23.6,560) (23.8,570) (24,565)};
\end{axis}

% ---------- Panel 9: Ion Temp
\begin{axis}[panel, at={(0pt,-647.2pt)}, ymode=log, ymin=1e4, ymax=1e7,
  ytick={1e5,1e6}, yticklabels={10\textsuperscript{5},10\textsuperscript{6}},
  ylabel={Ion Temp},
  ylabel style={at={(axis description cs:-0.099,0.5)}},
  xticklabels={00:00,,,06:00,,,12:00,,,18:00,,,00:00},
  xticklabel style={font=\tk, yshift=-3pt}]
\addplot[ibrown, only marks, mark=square*, mark size=0.55pt] coordinates {(0.5,6e4) (0.7,5e4) (0.9,7e4) (1.1,4.5e4) (1.3,6.5e4) (1.5,8e4) (1.7,5.5e4) (1.9,7e4) (2.1,4e4) (2.3,6e4) (2.5,7.5e4) (2.7,5e4) (2.9,6.5e4) (3.1,8e4) (3.3,5.5e4) (3.5,7e4) (3.7,4.5e4) (3.9,6e4) (4.1,3.5e4) (4.3,5e4) (4.5,7e4) (4.7,4e4) (4.9,6e4) (5.1,3e4) (5.3,5.5e4) (5.5,4e4) (5.7,6.5e4) (5.9,3.5e4) (6.1,2.5e4) (6.3,5e4) (6.5,3e4) (6.7,4.5e4) (6.9,2e4) (7.1,3.5e4) (7.3,5.5e4) (7.5,2.8e4) (7.7,4e4) (7.9,1.8e4) (8.1,3.2e4) (8.3,5e4) (8.5,2.5e4) (8.7,4.2e4) (8.9,3e4) (9.1,6e4) (9.3,2.2e4) (9.5,4.5e4) (9.7,3.5e4) (9.9,7e4) (10.1,5e4) (10.3,8e4) (10.5,6e4) (10.7,4e4) (10.9,7.5e4) (11.1,5e4) (11.3,3.5e4) (11.5,6e4) (11.7,4e4) (11.9,3e4) (12.1,2.8e4) (12.3,3.3e4) (12.5,2.6e4) (12.7,3e4) (12.9,2.5e4) (13.1,3.2e4) (13.3,2.2e4) (13.5,2.8e4) (13.7,2.0e4) (13.9,1.7e4) (14.1,2.2e4) (14.3,3.5e4) (14.5,4.5e4) (14.7,4e4) (14.9,5e4) (15.1,4.2e4) (15.3,6e4) (15.5,7e4) (15.7,5.5e4) (15.9,6.5e4) (16.1,7.5e4) (16.3,6e4) (16.5,7e4) (16.7,5.5e4) (16.9,6.5e4) (17.1,7.2e4) (17.3,5.8e4) (17.5,6.8e4) (17.7,5e4) (17.9,6e4) (18.1,4.8e4) (18.3,5.5e4) (18.5,4.5e4) (18.7,5.2e4) (18.9,4e4) (19.1,3e4) (19.3,2.2e4) (19.5,1.6e4) (19.6,1.2e4) (19.8,3.5e4) (20,6e4) (20.2,7e4) (20.4,5.5e4) (20.6,6.5e4) (20.8,5e4) (21,7e4) (21.2,6e4) (21.4,5.5e4) (21.6,7.5e4) (21.8,6e4) (22,8e4) (22.2,6.5e4) (22.4,7.5e4) (22.6,5.5e4) (22.8,8e4) (23,6.5e4) (23.2,7e4) (23.4,9e4) (23.6,7.5e4) (23.8,8.5e4) (24,9.5e4)};
\addplot[iblue, line width=1.6pt, line join=round] coordinates {(0,2.0e4) (0.4,1.9e4) (0.8,2.2e4) (1.2,2.4e4) (1.5,2.1e4) (1.8,2.0e4) (2.2,2.2e4) (2.6,2.4e4) (3,2.6e4) (3.4,2.8e4) (3.7,3.5e4) (4,4e4) (4.4,3.8e4) (4.8,4.2e4) (5.2,4.0e4) (5.6,4.3e4) (6,4.5e4) (6.4,5.0e4) (6.7,7e4) (7,1.1e5) (7.2,1.2e5) (7.5,1.25e5) (8,1.2e5) (8.5,1.22e5) (9,1.15e5) (9.5,1.1e5) (10,1.05e5) (10.5,1.0e5) (11,0.95e5) (11.5,0.9e5) (12,0.85e5) (12.5,0.82e5) (13,0.8e5) (13.5,0.78e5) (14,0.75e5) (14.5,0.7e5) (15,0.62e5) (15.3,0.5e5) (15.8,0.47e5) (16.5,0.45e5) (17,0.43e5) (17.5,0.42e5) (18,0.4e5) (18.5,0.38e5) (19,0.37e5) (19.5,0.38e5) (20,0.37e5) (20.5,0.39e5) (21,0.42e5) (21.3,0.45e5) (21.5,0.38e5) (22,0.37e5) (22.5,0.36e5) (23,0.35e5) (23.5,0.33e5) (24,0.35e5)};
\addplot[ired, only marks, mark=square*, mark size=1.1pt] coordinates {(0,1.3e5) (0.15,1.0e5) (0.3,1.5e5) (0.45,1.2e5) (0.6,1.4e5) (0.75,1.1e5) (0.9,1.6e5) (1.05,0.9e5) (1.2,1.3e5) (1.35,0.75e5) (1.5,1.1e5) (1.6,1.9e5) (1.75,0.8e5) (1.9,1.0e5) (2.05,0.7e5) (2.2,0.9e5) (2.35,0.65e5) (2.5,0.8e5) (2.65,1.2e5) (2.8,1.5e5) (2.95,1.3e5) (3.1,1.8e5) (3.2,8e5) (3.35,4.5e5) (3.5,3.5e5) (3.65,5.5e5) (3.8,3.2e5) (3.95,4e5) (4.1,6e5) (4.25,3e5) (4.4,3.8e5) (4.55,2.8e5) (4.7,3.5e5) (4.85,2.5e5) (5,3.2e5) (5.15,2.2e5) (5.3,3e5) (5.45,2.4e5) (5.6,3.5e5) (5.75,6e5) (5.85,8e5) (6,4e5) (6.15,5e5) (6.3,3.5e5) (6.45,7e5) (6.6,4e5) (6.75,4.5e5) (6.9,5.5e5) (7.05,6e5) (7.2,9e5) (7.35,4.5e5) (7.5,6.5e5) (7.65,5e5) (7.8,4e5) (7.95,4.6e5) (8.1,7e5) (8.25,3.8e5) (8.4,4.2e5) (8.55,3.5e5) (8.7,3e5) (8.85,3.6e5) (9,2.8e5) (9.15,2.5e5) (9.3,3e5) (9.45,2.2e5) (9.6,2e5) (9.75,2.4e5) (9.9,1.6e5) (10.05,1.9e5) (10.2,1.4e5) (10.35,1.2e5) (10.5,1.6e5) (10.65,1.0e5) (10.8,0.9e5) (10.95,1.1e5) (11.1,0.75e5) (11.25,0.85e5) (11.4,0.7e5) (11.55,0.9e5) (11.7,0.8e5) (11.85,1.0e5) (12,0.85e5) (12.2,0.95e5) (12.4,0.8e5) (12.6,0.9e5) (12.8,0.85e5) (13,0.8e5) (13.2,0.9e5) (13.4,0.75e5) (13.6,1.0e5) (13.8,1.5e5) (14,1.3e5) (14.2,1.6e5) (14.4,1.2e5) (14.6,1.4e5) (14.8,0.6e5) (15,1.3e5) (15.2,1.6e5) (15.4,1.4e5) (15.6,1.8e5) (15.8,1.5e5) (16,1.7e5) (16.2,1.9e5) (16.4,1.5e5) (16.6,1.8e5) (16.8,2.0e5) (17,1.7e5) (17.2,2.1e5) (17.4,2.4e5) (17.6,2.0e5) (17.8,2.3e5) (18,2.6e5) (18.2,2.2e5) (18.4,2.8e5) (18.6,2.1e5) (18.8,2.4e5) (19,1.8e5) (19.2,1.5e5) (19.4,1.3e5) (19.6,1.6e5) (19.8,1.4e5) (20,2.0e5) (20.2,2.4e5) (20.4,2.2e5) (20.6,2.6e5) (20.8,2.3e5) (21,2.5e5) (21.2,2.7e5) (21.4,2.4e5) (21.6,2.6e5) (21.8,2.2e5) (22,2.5e5) (22.2,2.8e5) (22.4,2.3e5) (22.6,2.6e5) (22.8,2.4e5) (23,2.9e5) (23.2,2.5e5) (23.4,2.7e5) (23.6,2.3e5) (23.8,2.6e5) (24,2.4e5)};
\end{axis}
\end{tikzpicture}
\end{document}
